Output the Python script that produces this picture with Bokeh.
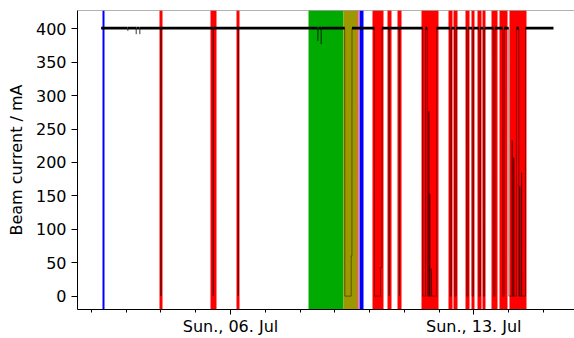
import numpy as np
import pandas as pd
from bokeh.plotting import figure
from bokeh.models import ColumnDataSource, Range1d, FixedTicker, DatetimeTickFormatter, Span
from bokeh.embed import file_html
from bokeh.resources import INLINE

# ---- operation mode bands (start, end, colour) ----
band_start = ["2025-07-02 07:48", "2025-07-03 23:00", "2025-07-05 10:12", "2025-07-06 04:09",
              "2025-07-08 05:52", "2025-07-09 06:02", "2025-07-09 16:00", "2025-07-09 17:17",
              "2025-07-10 02:15", "2025-07-10 12:37", "2025-07-10 19:31", "2025-07-11 11:53",
              "2025-07-12 06:44", "2025-07-12 10:11", "2025-07-12 18:28", "2025-07-12 22:12",
              "2025-07-13 02:45", "2025-07-13 05:48", "2025-07-13 12:00", "2025-07-13 17:44",
              "2025-07-14 00:39"]
band_end = ["2025-07-02 09:12", "2025-07-04 00:42", "2025-07-05 14:20", "2025-07-06 06:13",
            "2025-07-09 06:02", "2025-07-09 15:54", "2025-07-09 16:36", "2025-07-09 19:38",
            "2025-07-10 09:26", "2025-07-10 15:10", "2025-07-10 21:52", "2025-07-11 23:25",
            "2025-07-12 09:30", "2025-07-12 12:32", "2025-07-12 20:49", "2025-07-13 00:29",
            "2025-07-13 05:18", "2025-07-13 08:04", "2025-07-13 16:09", "2025-07-13 23:03",
            "2025-07-14 12:23"]
band_color = ["#0000ff", "#ff0000", "#ff0000", "#ff0000",
              "#00aa00", "#9e9800", "#ff0000", "#0000ff",
              "#ff0000", "#ff0000", "#ff0000", "#ff0000",
              "#ff0000", "#ff0000", "#ff0000", "#ff0000",
              "#ff0000", "#ff0000", "#ff0000", "#ff0000",
              "#ff0000"]

# ---- beam current time series ----
beam_time = [
    "2025-07-02 06:42",
    "2025-07-03 01:00", "2025-07-03 01:06", "2025-07-03 01:12",
    "2025-07-03 06:48", "2025-07-03 06:54", "2025-07-03 07:00",
    "2025-07-03 09:18", "2025-07-03 09:24", "2025-07-03 09:30",
    "2025-07-03 23:55", "2025-07-04 00:00", "2025-07-04 00:05",
    "2025-07-05 12:00", "2025-07-05 12:05", "2025-07-05 12:10",
    "2025-07-06 05:15", "2025-07-06 05:19", "2025-07-06 05:23",
    "2025-07-08 12:10", "2025-07-08 12:17", "2025-07-08 12:40",
    "2025-07-08 14:30", "2025-07-08 14:38", "2025-07-08 14:46",
    "2025-07-09 06:52", "2025-07-09 06:56", "2025-07-09 11:20", "2025-07-09 11:21",
    "2025-07-09 11:50", "2025-07-09 11:54",
    "2025-07-10 03:22", "2025-07-10 03:26", "2025-07-10 07:34", "2025-07-10 07:35",
    "2025-07-10 08:33", "2025-07-10 08:37",
    "2025-07-10 13:31", "2025-07-10 13:35", "2025-07-10 13:39",
    "2025-07-10 20:38", "2025-07-10 20:42", "2025-07-10 20:46",
    "2025-07-11 12:43", "2025-07-11 12:47", "2025-07-11 14:38", "2025-07-11 14:42",
    "2025-07-11 15:50", "2025-07-11 15:54", "2025-07-11 16:56", "2025-07-11 16:58",
    "2025-07-11 17:02", "2025-07-11 17:36", "2025-07-11 17:38", "2025-07-11 17:42",
    "2025-07-11 18:34", "2025-07-11 18:36", "2025-07-11 18:50", "2025-07-11 18:54",
    "2025-07-11 22:14", "2025-07-11 22:18",
    "2025-07-12 07:37", "2025-07-12 07:40", "2025-07-12 08:34", "2025-07-12 08:37",
    "2025-07-12 10:52", "2025-07-12 10:55", "2025-07-12 11:49", "2025-07-12 11:52",
    "2025-07-12 19:08", "2025-07-12 19:11", "2025-07-12 20:05", "2025-07-12 20:08",
    "2025-07-12 22:48", "2025-07-12 22:51", "2025-07-12 23:45", "2025-07-12 23:48",
    "2025-07-13 03:34", "2025-07-13 03:37", "2025-07-13 04:31", "2025-07-13 04:34",
    "2025-07-13 06:30", "2025-07-13 06:33", "2025-07-13 07:27", "2025-07-13 07:30",
    "2025-07-13 13:35", "2025-07-13 13:38", "2025-07-13 14:32", "2025-07-13 14:35",
    "2025-07-13 20:00", "2025-07-13 20:03", "2025-07-13 20:57", "2025-07-13 21:00",
    "2025-07-14 00:06", "2025-07-14 00:10", "2025-07-14 02:28", "2025-07-14 02:30",
    "2025-07-14 02:34", "2025-07-14 03:35", "2025-07-14 03:37", "2025-07-14 03:41",
    "2025-07-14 05:25", "2025-07-14 05:29", "2025-07-14 07:04", "2025-07-14 07:08",
    "2025-07-14 07:44", "2025-07-14 07:46", "2025-07-14 07:50", "2025-07-14 08:58",
    "2025-07-14 09:00", "2025-07-14 09:04", "2025-07-14 11:38", "2025-07-14 11:42",
    "2025-07-15 07:00",
]
beam_ma = [
    401,
    401, 397, 401,
    401, 392, 401,
    401, 392, 401,
    401, 0, 401,
    401, 0, 401,
    401, 0, 401,
    401, 382, 401,
    401, 377, 401,
    401, 0, 0, 60,
    60, 401,
    401, 0, 0, 43,
    43, 401,
    401, 0, 401,
    401, 0, 401,
    401, 0, 0, 401,
    401, 0, 0, 277,
    0, 0, 153, 0,
    0, 41, 41, 0,
    0, 401,
    401, 0, 0, 401,
    401, 0, 0, 401,
    401, 0, 0, 401,
    401, 0, 0, 401,
    401, 0, 0, 401,
    401, 0, 0, 401,
    401, 0, 0, 401,
    401, 0, 0, 401,
    401, 0, 0, 233,
    0, 0, 207, 0,
    0, 401, 401, 0,
    0, 164, 0, 0,
    185, 0, 0, 401,
    401,
]

y_ticks = [0, 50, 100, 150, 200, 250, 300, 350, 400]
major_days = ["2025-07-06", "2025-07-13"]
minor_days = ["2025-07-%02d" % d for d in range(2, 16)]

# ---- build ----
t = pd.to_datetime(beam_time)
ma = np.array(beam_ma, dtype=float)
ma_top = np.where(ma >= 400, ma, np.nan)

bands = ColumnDataSource(dict(x0=pd.to_datetime(band_start), x1=pd.to_datetime(band_end), color=band_color))
beam = ColumnDataSource(dict(t=t, ma=ma, top=ma_top))

Y_MAX = 427.4
p = figure(width=574, height=338, x_axis_type="datetime", output_backend="svg",
           toolbar_location=None,
           x_range=Range1d(pd.Timestamp("2025-07-01 14:21"), pd.Timestamp("2025-07-15 21:32")),
           y_range=Range1d(-20, Y_MAX),
           min_border_left=77, min_border_right=0, min_border_top=10, min_border_bottom=29)

p.vstrip(x0="x0", x1="x1", source=bands, fill_color="color", line_color=None)
p.line("t", "ma", source=beam, line_color="black", line_width=1, line_alpha=0.45)
p.line("t", "top", source=beam, line_color="black", line_width=2.6)

p.grid.visible = False
p.outline_line_color = None
p.add_layout(Span(location=Y_MAX, dimension="width", line_color="black", line_alpha=0.6, line_width=1))
p.background_fill_color = "white"
p.border_fill_color = "white"

to_ms = lambda s: pd.Timestamp(s).value // 10**6
p.xaxis.ticker = FixedTicker(ticks=[to_ms(d) for d in major_days],
                             minor_ticks=[to_ms(d) for d in minor_days])
fmt = "%a., %d. %b"
p.xaxis.formatter = DatetimeTickFormatter(milliseconds=fmt, seconds=fmt, minsec=fmt, minutes=fmt,
                                          hourmin=fmt, hours=fmt, days=fmt, months=fmt, years=fmt)
p.yaxis.ticker = FixedTicker(ticks=y_ticks)
p.yaxis.axis_label = "Beam current / mA"

for ax in (p.xaxis[0], p.yaxis[0]):
    ax.axis_line_color = "black"
    ax.major_tick_line_color = "black"
    ax.major_tick_out = 6
    ax.major_tick_in = 0
    ax.major_label_text_font = "DejaVu Sans"
    ax.major_label_text_font_size = "16px"
    ax.major_label_text_color = "black"
    ax.axis_label_text_font = "DejaVu Sans"
    ax.axis_label_text_font_size = "16px"
    ax.axis_label_text_font_style = "normal"
    ax.axis_label_text_color = "black"

p.xaxis.major_tick_out = 5
p.xaxis.minor_tick_line_color = "black"
p.xaxis.minor_tick_out = 3
p.xaxis.minor_tick_in = 0
p.xaxis.major_label_standoff = 2
p.xaxis.major_label_text_line_height = 1.0
p.yaxis.minor_tick_line_color = None
p.yaxis.major_label_standoff = 5
p.yaxis.axis_label_standoff = 7

open("out.html", "w").write(file_html(p, INLINE))
